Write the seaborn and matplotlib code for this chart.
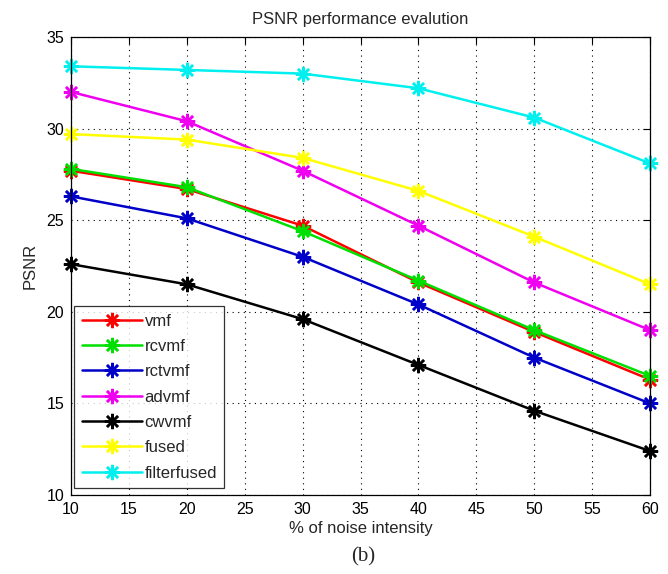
import matplotlib
matplotlib.use("Agg")
import matplotlib.pyplot as plt
import pandas as pd
import seaborn as sns

noise = [10, 20, 30, 40, 50, 60]

vmf = [27.7, 26.7, 24.7, 21.6, 18.9, 16.3]
rcvmf = [27.8, 26.8, 24.4, 21.7, 19.0, 16.5]
rctvmf = [26.3, 25.1, 23.0, 20.4, 17.5, 15.0]
advmf = [32.0, 30.4, 27.7, 24.7, 21.6, 19.0]
cwvmf = [22.6, 21.5, 19.6, 17.1, 14.6, 12.4]
fused = [29.7, 29.4, 28.4, 26.6, 24.1, 21.5]
filterfused = [33.4, 33.2, 33.0, 32.2, 30.6, 28.1]

names = ["vmf", "rcvmf", "rctvmf", "advmf", "cwvmf", "fused", "filterfused"]
values = [vmf, rcvmf, rctvmf, advmf, cwvmf, fused, filterfused]
colors = ["#ff0000", "#00e000", "#0000c8", "#f000f0", "#000000", "#ffff00", "#00f0f0"]

sns.set_style("white")
plt.rcParams["font.family"] = ["Liberation Sans", "DejaVu Sans"]

fig = plt.figure(figsize=(6.68, 5.74), dpi=100)
ax = fig.add_axes([0.1063, 0.1376, 0.8668, 0.798])

# matlab style '*' marker: plus and cross overlaid
asterisk = (8, 2, 0)
for name, vals, c in zip(names, values, colors):
    df = pd.DataFrame({"noise": noise, "psnr": vals})
    sns.lineplot(data=df, x="noise", y="psnr", color=c, marker=asterisk,
                 markersize=11, markeredgewidth=1.8, markeredgecolor=c,
                 linewidth=1.8, label=name, clip_on=False, ax=ax)

ax.set_xlim(10, 60)
ax.set_ylim(10, 35)
ax.set_xticks(range(10, 61, 5))
ax.set_yticks(range(10, 36, 5))
ax.grid(True, color="black", linestyle=(0, (1, 4)), linewidth=0.8)
ax.tick_params(direction="in", top=True, right=True, labelsize=11.5, length=5,
               width=0.8, colors="black", pad=5)
for s in ax.spines.values():
    s.set_color("black")
    s.set_linewidth(0.9)

ax.set_title("PSNR performance evalution", fontsize=12, pad=9)
ax.set_xlabel("% of noise intensity", fontsize=12, labelpad=3)
ax.set_ylabel("PSNR", fontsize=12, labelpad=6)

leg = ax.legend(loc="lower left", bbox_to_anchor=(0.006, 0.015), fontsize=12,
                frameon=True, fancybox=False, edgecolor="black",
                handlelength=3.6, handletextpad=0.15, labelspacing=0.62,
                borderpad=0.45, borderaxespad=0)
leg.get_frame().set_linewidth(0.9)

fig.text(0.543, 0.03, "(b)", family="Liberation Serif", fontsize=15,
         ha="center", va="center")

fig.savefig("out.png", dpi=100)
